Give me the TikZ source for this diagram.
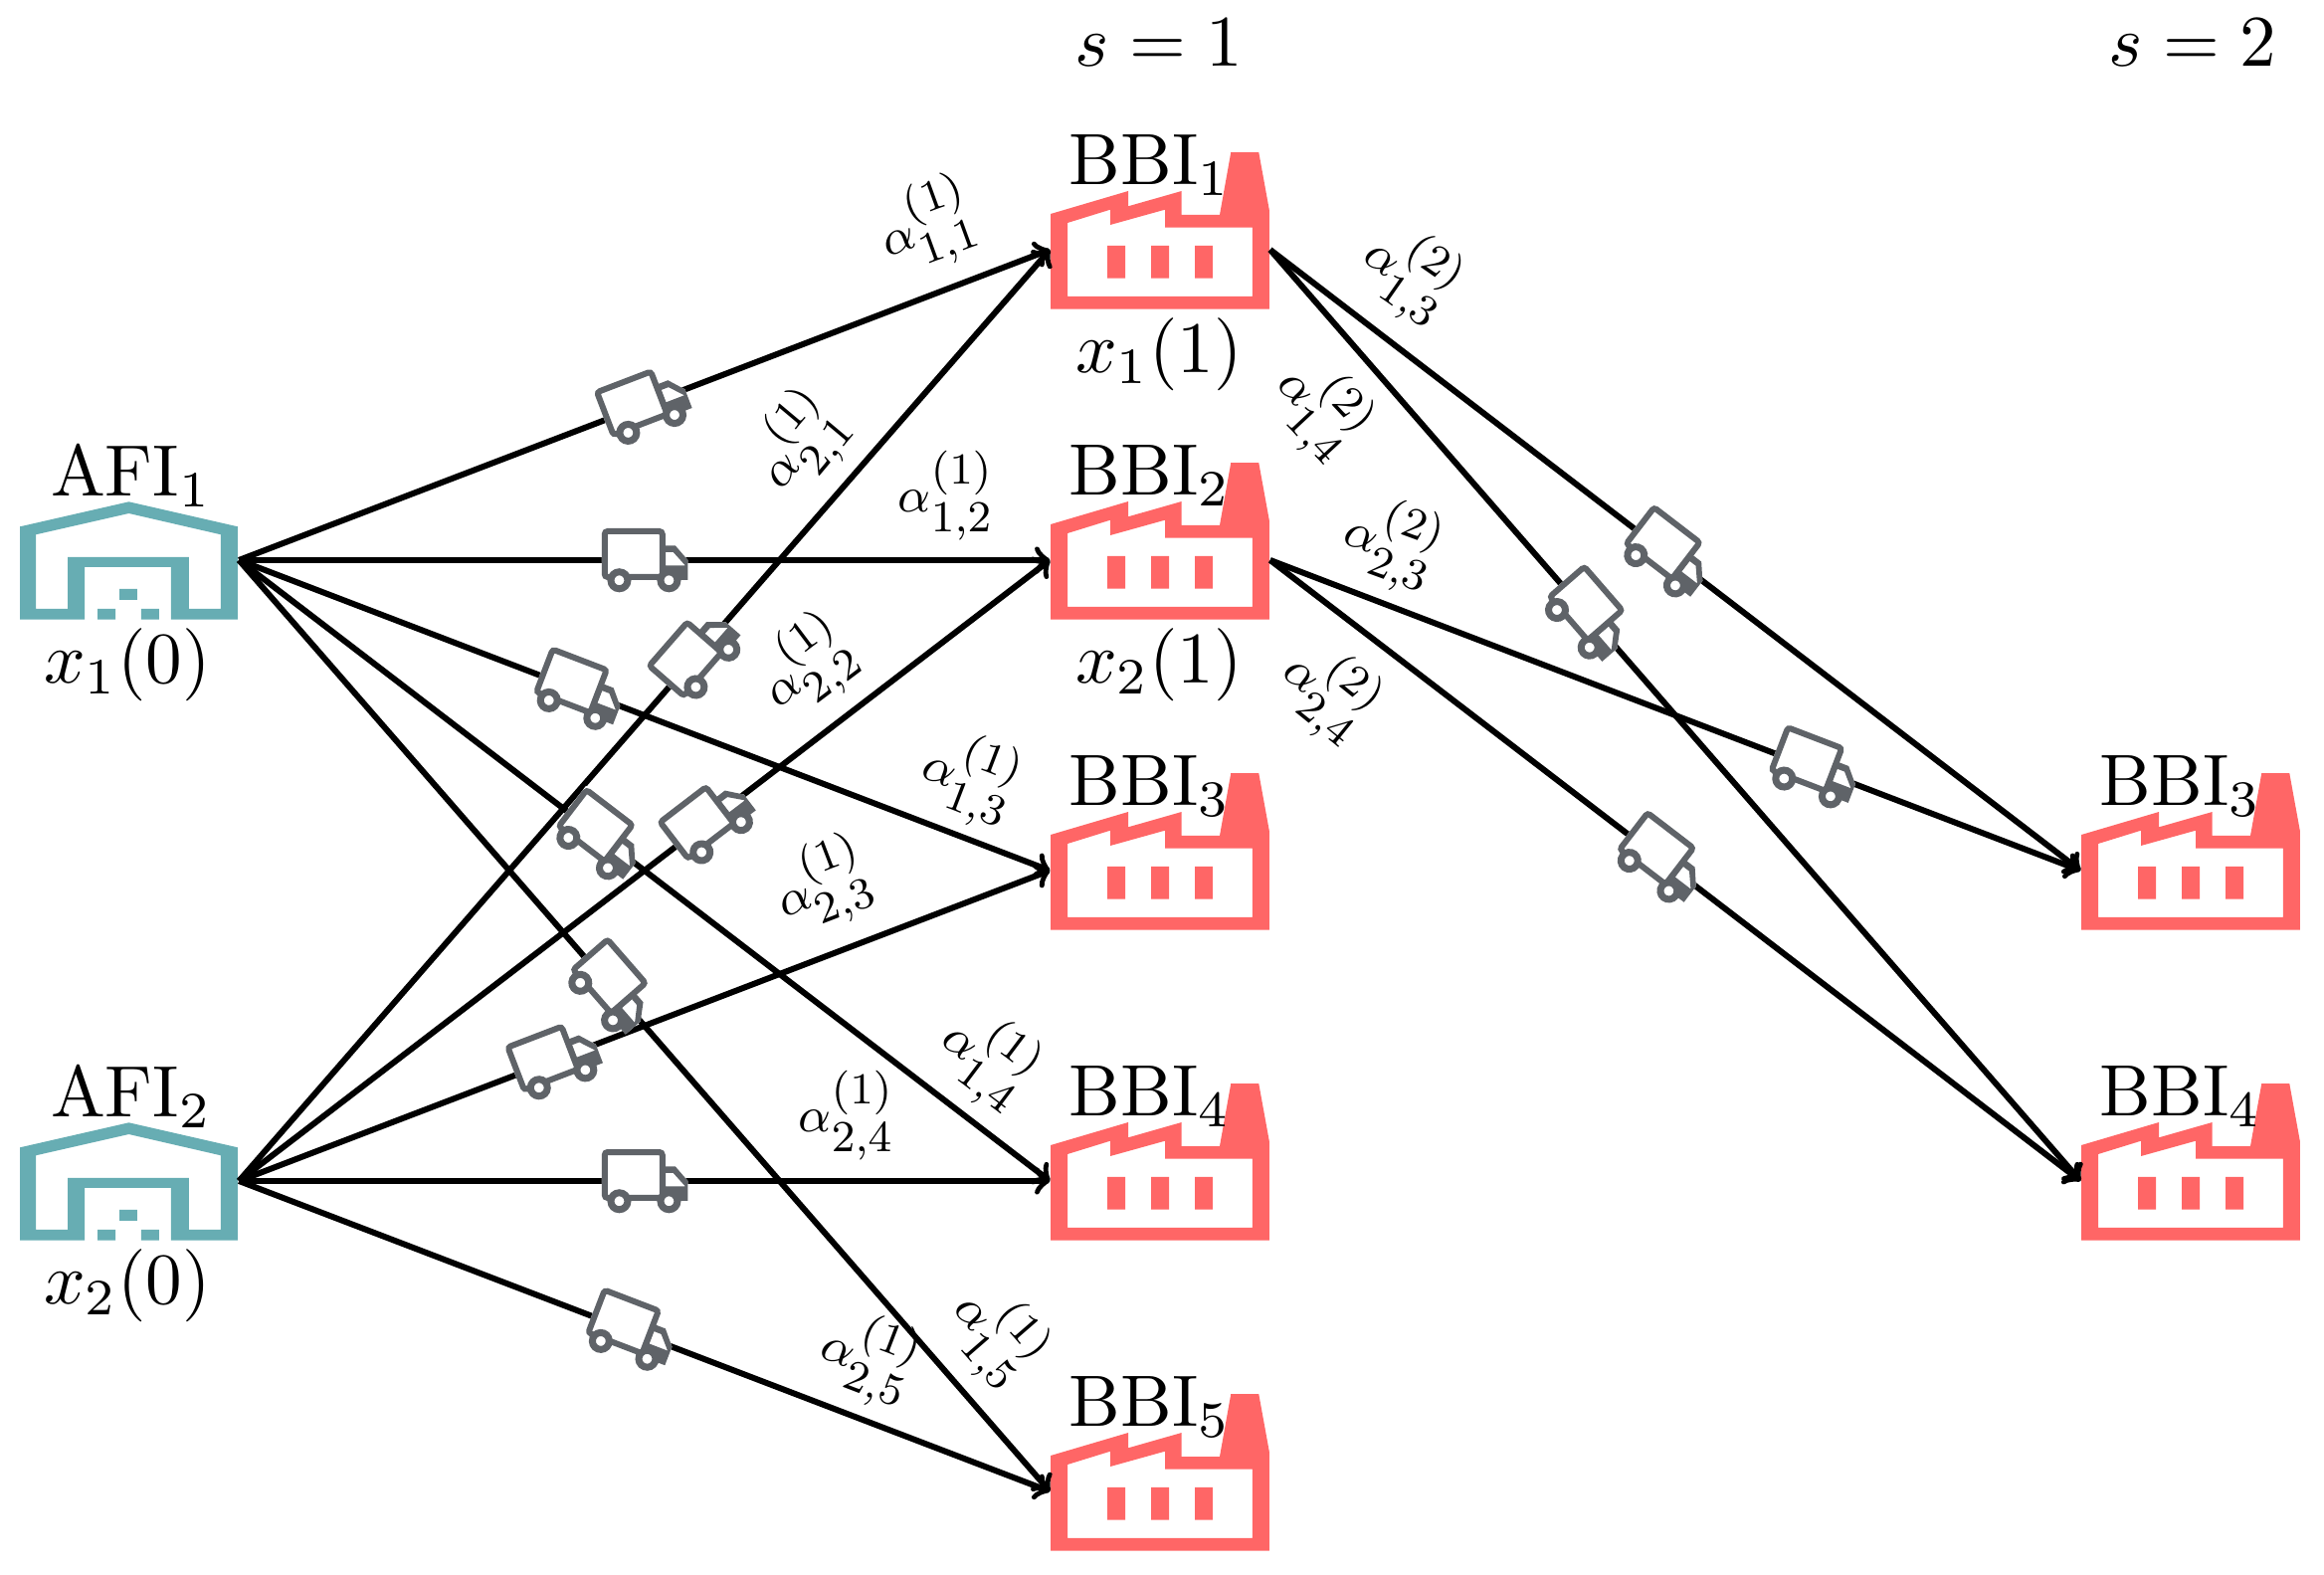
\documentclass[tikz,border=0pt]{standalone}
\usepackage{amsmath}
\DeclareMathSizes{9}{9}{8}{7}
\definecolor{afiteal}{RGB}{103,173,179}
\definecolor{bbired}{RGB}{255,102,102}
\definecolor{truckgray}{RGB}{95,99,104}
\tikzset{
    hub/.style={minimum width=2.2cm,minimum height=1.2cm,inner sep=0pt},
    hubtext/.style={inner sep=0pt,anchor=base,scale=2.08},
    weight/.style={font=\fontsize{9}{10}\selectfont,inner sep=0pt,scale=1.58},
    flow/.style={->,line width=0.06cm},
    pics/warehouse/.style={code={
        \fill[afiteal,even odd rule,scale=0.01,yshift=-2cm] (-109.5,35.7) -- (0,60.7) -- (109.5,35.7) -- (109.5,-57.7) -- (42.5,-57.7) -- (42.5,-5) -- (-44.5,-5) -- (-44.5,-57.7) -- (-109.5,-57.7) -- cycle
            (-93.5,27.7) -- (0,49) -- (92.5,27.7) -- (92.5,-47) -- (60.5,-47) -- (60.5,5) -- (-61.5,5) -- (-61.5,-47) -- (-93.5,-47) -- cycle
            (-9.5,-27) rectangle (8.5,-38)
            (-31.5,-47) rectangle (-13.5,-57.7)
            (12.5,-47) rectangle (30.5,-57.7);
    }},
    pics/factory/.style={code={
        \fill[bbired,even odd rule,scale=0.01] (-110,36) -- (-32,59) -- (-32,43.7) -- (21.7,59) -- (21.7,35) -- (60,35) -- (71.3,98) -- (99.3,98) -- (110,39.3) -- (110,-59.7) -- (-110,-59.7) -- cycle
            (-93,27) -- (-50,40.3) -- (-50,25) -- (5,40.3) -- (5,22.3) -- (93,22.3) -- (93,-47) -- (-93,-47) -- cycle
            (-53,4) rectangle (-35,-28.7)
            (-9,4) rectangle (9,-28.7)
            (35,4) rectangle (53,-28.7);
    }},
    pics/truck/.style={code={
        \begin{scope}[scale=0.01]
        \fill[white] (-43,32) -- (21,32) -- (21,14.7) -- (31,14.7) -- (43.7,0) -- (43.7,-20) -- (-43,-20) -- cycle;
        \fill[truckgray,even odd rule] (18,14.7) -- (31,14.7) -- (43.7,0) -- (43.7,-20) -- (18,-20) -- cycle
            (21.3,8) -- (29,8) -- (41,-5.3) -- (21.3,-5.3) -- cycle;
        \draw[truckgray,line width=0.06cm,rounded corners=0.03cm] (-40,-17) -- (-40,29) -- (18,29) -- (18,-17) -- cycle;
        \draw[truckgray,fill=white,line width=0.07cm] (-25.3,-20.3) circle (8.5) (24.7,-20.3) circle (8.5);
        \end{scope}
    }},
}
\begin{document}
\begin{tikzpicture}
\useasboundingbox (0,0) rectangle (23.36,15.83);
% hubs
\foreach \i/\y in {1/10.20,2/3.96} {
    \node[hub] (afi\i) at (1.295,\y) {};
    \pic at (afi\i) {warehouse};
    \node[hubtext] (afi\i text) at (1.32,\y+0.64) {AFI$_\i$};
    \node[hubtext] (afi\i state) at (1.28,\y-1.24) {$x_\i(0)$};
}
\foreach \i/\y in {1/13.32,2/10.20,3/7.08,4/3.96,5/0.84} {
    \node[hub] (bbi\i) at (11.66,\y) {};
    \pic at (bbi\i) {factory};
    \node[hubtext] (bbi\i text) at (11.56,\y+0.65) {BBI$_\i$};
}
\foreach \i/\y in {3/7.08,4/3.96} {
    \node[hub] (far\i) at (22.02,\y) {};
    \pic at (far\i) {factory};
    \node[hubtext] (far\i text) at (21.92,\y+0.65) {BBI$_\i$};
}
\node[hubtext] (state1) at (11.65,12.08) {$x_1(1)$};
\node[hubtext] (state2) at (11.65,8.96) {$x_2(1)$};
\node[hubtext] (stage1) at (11.65,15.16) {$s=1$};
\node[hubtext] (stage2) at (22.04,15.16) {$s=2$};
% flows
\foreach \a in {afi1,afi2} {
    \foreach \b in {bbi1,bbi2,bbi3,bbi4,bbi5} {
        \draw[flow] (\a.east) -- (\b.west);
    }
}
\foreach \a in {bbi1,bbi2} {
    \foreach \b in {far3,far4} {
        \draw[flow] (\a.east) -- (\b.west);
    }
}
% trucks go over the flows
\foreach \a/\b/\p in {afi1/bbi1/0.5,afi1/bbi2/0.5,afi1/bbi3/0.42,afi1/bbi4/0.446,afi1/bbi5/0.46,
    afi2/bbi1/0.565,afi2/bbi2/0.58,afi2/bbi3/0.39,afi2/bbi4/0.5,afi2/bbi5/0.484,
    bbi1/far3/0.491,bbi1/far4/0.393,bbi2/far3/0.672,bbi2/far4/0.483} {
    \path (\a.east) -- (\b.west) pic[pos=\p,sloped] {truck};
}
% weights
\foreach \n/\x/\y/\r/\s/\i/\j in {a11/9.32/13.56/20/1/1/1,a21/8.04/11.37/50/1/2/1,a12/9.51/10.85/0/1/1/2,
    a22/8.11/9.13/37/1/2/2,a13/9.75/8.01/-21/1/1/3,a23/8.27/6.93/21/1/2/3,a14/9.93/5.19/-37/1/1/4,
    a24/8.51/4.62/0/1/2/4,a25/8.73/2.18/-21/1/2/5,a15/10.01/2.41/-49/1/1/5,
    b13/14.17/13.08/-35/2/1/3,b14/13.27/11.72/-47/2/1/4,b23/13.99/10.37/-20/2/2/3,b24/13.35/8.87/-39/2/2/4} {
    \node[weight,rotate=\r] (\n) at (\x,\y) {$\alpha^{(\s)}_{\i,\j}$};
}
\end{tikzpicture}
\end{document}
